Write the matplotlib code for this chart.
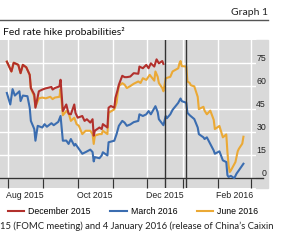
import pandas as pd
import matplotlib.pyplot as plt
import matplotlib.dates as mdates
from matplotlib.patches import Rectangle
from matplotlib.lines import Line2D

# Fed funds futures: implied probability of a hike, by meeting
dec_dates = ['2015-07-31', '2015-08-04', '2015-08-06', '2015-08-10', '2015-08-12', '2015-08-14',
             '2015-08-17', '2015-08-20', '2015-08-21', '2015-08-24', '2015-08-25', '2015-08-28',
             '2015-08-31', '2015-09-03', '2015-09-08', '2015-09-09', '2015-09-11', '2015-09-15',
             '2015-09-16', '2015-09-18', '2015-09-21', '2015-09-23', '2015-09-25', '2015-09-28',
             '2015-09-29', '2015-10-01', '2015-10-05', '2015-10-07', '2015-10-09', '2015-10-12',
             '2015-10-14', '2015-10-15', '2015-10-16', '2015-10-20', '2015-10-22', '2015-10-23',
             '2015-10-27', '2015-10-28', '2015-10-30', '2015-11-02', '2015-11-03', '2015-11-05',
             '2015-11-06', '2015-11-09', '2015-11-11', '2015-11-13', '2015-11-16', '2015-11-19',
             '2015-11-23', '2015-11-24', '2015-11-27', '2015-11-30', '2015-12-02', '2015-12-04',
             '2015-12-07', '2015-12-09', '2015-12-11', '2015-12-14', '2015-12-15']
dec_vals = [75.9, 69.5, 75.2, 73.8, 68.4, 73.8,
            72.2, 67.3, 58.7, 54.5, 45.9, 56.6,
            57.7, 58.5, 59.4, 57.7, 58.7, 59.8,
            64.1, 43.7, 48.0, 42.0, 41.6, 48.0,
            42.6, 39.4, 40.5, 37.3, 38.4, 36.2,
            38.4, 27.7, 30.9, 33.0, 32.0, 35.2,
            33.0, 45.9, 47.0, 45.9, 52.3, 57.7,
            60.9, 66.7, 65.8, 65.8, 66.2, 68.4,
            68.0, 72.7, 71.6, 73.8, 71.6, 74.8,
            72.7, 77.4, 74.8, 76.3, 74.4]

mar_dates = ['2015-07-31', '2015-08-03', '2015-08-05', '2015-08-07', '2015-08-11', '2015-08-12',
             '2015-08-14', '2015-08-18', '2015-08-20', '2015-08-21', '2015-08-24', '2015-08-25',
             '2015-08-27', '2015-08-31', '2015-09-02', '2015-09-04', '2015-09-08', '2015-09-10',
             '2015-09-14', '2015-09-16', '2015-09-18', '2015-09-21', '2015-09-23', '2015-09-25',
             '2015-09-28', '2015-09-29', '2015-10-02', '2015-10-05', '2015-10-08', '2015-10-12',
             '2015-10-14', '2015-10-15', '2015-10-16', '2015-10-20', '2015-10-22', '2015-10-23',
             '2015-10-27', '2015-10-28', '2015-11-02', '2015-11-04', '2015-11-06', '2015-11-09',
             '2015-11-11', '2015-11-13', '2015-11-16', '2015-11-19', '2015-11-23', '2015-11-24',
             '2015-11-27', '2015-11-30', '2015-12-02', '2015-12-04', '2015-12-08', '2015-12-10',
             '2015-12-11', '2015-12-15', '2015-12-17', '2015-12-18', '2015-12-21', '2015-12-23',
             '2015-12-28', '2015-12-29', '2015-12-30', '2015-12-31', '2016-01-04', '2016-01-05',
             '2016-01-07', '2016-01-11', '2016-01-14', '2016-01-15', '2016-01-19', '2016-01-20',
             '2016-01-22', '2016-01-25', '2016-01-28', '2016-01-29', '2016-02-02', '2016-02-05',
             '2016-02-08', '2016-02-09', '2016-02-10', '2016-02-12', '2016-02-15', '2016-02-17',
             '2016-02-19', '2016-02-23']
mar_vals = [55.5, 48.0, 58.0, 53.8, 56.6, 50.2,
            53.8, 53.4, 45.9, 37.3, 32.0, 24.4,
            34.1, 33.0, 35.2, 33.5, 35.8, 34.5,
            36.7, 40.5, 24.4, 24.5, 22.3, 25.5,
            21.2, 22.3, 19.1, 15.9, 17.0, 18.6,
            17.0, 10.9, 13.7, 13.0, 14.8, 16.9,
            14.8, 23.4, 24.4, 28.7, 34.1, 37.3,
            36.2, 34.1, 35.0, 36.5, 37.3, 41.6,
            40.5, 41.6, 43.7, 41.6, 46.9, 43.0,
            38.4, 34.5, 40.5, 39.0, 41.6, 44.5,
            49.1, 50.6, 51.9, 50.2, 49.1, 42.6,
            41.0, 38.5, 33.0, 28.7, 26.6, 25.5,
            26.6, 22.3, 18.0, 15.9, 17.5, 11.6,
            10.5, 1.9, 0.8, 1.5, 0.0, 3.0,
            5.1, 9.4]

jun_dates = ['2015-07-31', '2015-08-04', '2015-08-06', '2015-08-10', '2015-08-12', '2015-08-14',
             '2015-08-17', '2015-08-20', '2015-08-21', '2015-08-24', '2015-08-25', '2015-08-28',
             '2015-08-31', '2015-09-03', '2015-09-07', '2015-09-09', '2015-09-11', '2015-09-15',
             '2015-09-16', '2015-09-18', '2015-09-21', '2015-09-23', '2015-09-25', '2015-09-28',
             '2015-09-30', '2015-10-02', '2015-10-05', '2015-10-08', '2015-10-12', '2015-10-14',
             '2015-10-15', '2015-10-16', '2015-10-20', '2015-10-22', '2015-10-23', '2015-10-27',
             '2015-10-28', '2015-11-02', '2015-11-04', '2015-11-05', '2015-11-06', '2015-11-09',
             '2015-11-11', '2015-11-13', '2015-11-16', '2015-11-19', '2015-11-23', '2015-11-25',
             '2015-11-27', '2015-11-30', '2015-12-03', '2015-12-07', '2015-12-08', '2015-12-10',
             '2015-12-11', '2015-12-14', '2015-12-15', '2015-12-17', '2015-12-21', '2015-12-23',
             '2015-12-28', '2015-12-29', '2015-12-30', '2015-12-31', '2016-01-04', '2016-01-05',
             '2016-01-07', '2016-01-08', '2016-01-11', '2016-01-14', '2016-01-15', '2016-01-19',
             '2016-01-20', '2016-01-22', '2016-01-25', '2016-01-28', '2016-01-29', '2016-02-02',
             '2016-02-05', '2016-02-08', '2016-02-09', '2016-02-10', '2016-02-11', '2016-02-12',
             '2016-02-16', '2016-02-18', '2016-02-19', '2016-02-22', '2016-02-23']
jun_vals = [75.9, 69.5, 75.2, 73.8, 68.4, 73.8,
            72.2, 67.3, 58.7, 53.0, 46.5, 52.0,
            52.5, 52.0, 53.0, 51.5, 52.5, 53.0,
            58.0, 41.0, 43.7, 42.6, 37.3, 39.4,
            35.2, 34.1, 28.7, 30.9, 30.9, 28.7,
            22.3, 27.7, 28.7, 28.7, 30.9, 28.7,
            42.6, 44.8, 49.1, 55.5, 60.0, 61.9,
            60.9, 58.7, 60.0, 61.5, 63.0, 62.0,
            65.1, 64.0, 67.3, 63.5, 69.5, 66.0,
            62.0, 58.7, 56.6, 65.1, 66.0, 69.5,
            71.6, 74.8, 76.3, 73.0, 72.7, 63.0,
            62.0, 60.5, 59.8, 53.0, 45.0, 46.5,
            44.0, 41.6, 44.0, 38.0, 32.0, 34.0,
            26.6, 28.5, 17.0, 8.5, 4.0, 5.0,
            10.5, 17.5, 19.1, 22.5, 27.0]

event_dates = ['2015-12-16', '2016-01-04']
y_ticks = [0, 15, 30, 45, 60, 75]
x_labels = ['Aug 2015', 'Oct 2015', 'Dec 2015', 'Feb 2016']
x_label_pos = ['2015-08-16', '2015-10-16', '2015-12-16', '2016-02-15']
legend_names = ['December 2015', 'March 2016', 'June 2016']

RED = '#b2302c'
BLUE = '#3b6db0'
ORANGE = '#eba935'
GREY = '#d9d9d9'
DARK = '#333333'

fig = plt.figure(figsize=(3.0, 2.41), dpi=100)
ax = fig.add_axes([0, 1 - 188 / 241, 256 / 300, 148 / 241])
ax.set_facecolor(GREY)
# grey strip to the right of the plot holding the y labels
fig.patches.append(Rectangle((256 / 300, 1 - 188 / 241), 12 / 300, 148 / 241,
                             transform=fig.transFigure, color=GREY, zorder=-5))

ax.plot(pd.to_datetime(jun_dates), jun_vals, color=ORANGE, lw=1.5, zorder=3)
ax.plot(pd.to_datetime(mar_dates), mar_vals, color=BLUE, lw=1.5, zorder=3)
ax.plot(pd.to_datetime(dec_dates), dec_vals, color=RED, lw=1.5, zorder=4)

for d in event_dates:
    ax.axvline(pd.Timestamp(d), color=DARK, lw=1.0, zorder=5)
ax.axhline(0, color=DARK, lw=1.0, zorder=2, xmax=263 / 256, clip_on=False)

ax.set_xlim(pd.Timestamp('2015-07-25'), pd.Timestamp('2016-03-05'))
ax.set_ylim(-6.4, 90)

ax.xaxis.set_major_locator(mdates.MonthLocator())
ax.xaxis.set_major_formatter(plt.NullFormatter())
ax.set_xticks(pd.to_datetime(x_label_pos), labels=x_labels, minor=True)
ax.tick_params(axis='x', which='major', direction='in', length=7, width=0.9, color=DARK)
ax.tick_params(axis='x', which='minor', length=0, pad=2.5)

ax.yaxis.tick_right()
ax.set_yticks(y_ticks, labels=[str(v) for v in y_ticks])
ax.tick_params(axis='y', length=0, pad=7.2)

for lab in ax.get_xticklabels(minor=True) + ax.get_yticklabels():
    lab.set_fontfamily('Liberation Sans')
    lab.set_fontsize(6.3)
    lab.set_color('#222222')
for lab in ax.get_yticklabels():
    lab.set_horizontalalignment('right')
    lab.set_verticalalignment('bottom')

ax.grid(True, which='major', color='white', lw=1.0, zorder=1)
ax.set_axisbelow(True)
for s in ax.spines.values():
    s.set_visible(False)

# header
fig.text(268 / 300, 1 - 12.5 / 241, 'Graph 1', ha='right', va='center',
         fontfamily='Lato', fontsize=7.5, color='#222222')
fig.add_artist(Line2D([0, 268 / 300], [1 - 19.5 / 241] * 2, color='#555555', lw=1.0))
fig.text(3 / 300, 1 - 32 / 241, 'Fed rate hike probabilities\u00b2', ha='left', va='center',
         fontfamily='Lato', fontsize=7.5, color='#111111')

handles = [Line2D([], [], color=c, lw=1.5) for c in (RED, BLUE, ORANGE)]
fig.legend(handles, legend_names, loc='center', bbox_to_anchor=(133 / 300, 1 - 212 / 241),
           ncol=3, frameon=False, handlelength=1.9, handletextpad=0.45, columnspacing=2.2,
           prop={'family': 'Liberation Sans', 'size': 6.3}, borderpad=0, borderaxespad=0)

fig.text(0, 1 - 226 / 241, '15 (FOMC meeting) and 4 January 2016 (release of China\u2019s Caixin',
         ha='left', va='center', fontfamily='Lato', fontsize=6.8, color='#222222')

fig.savefig('out.png', dpi=100)
